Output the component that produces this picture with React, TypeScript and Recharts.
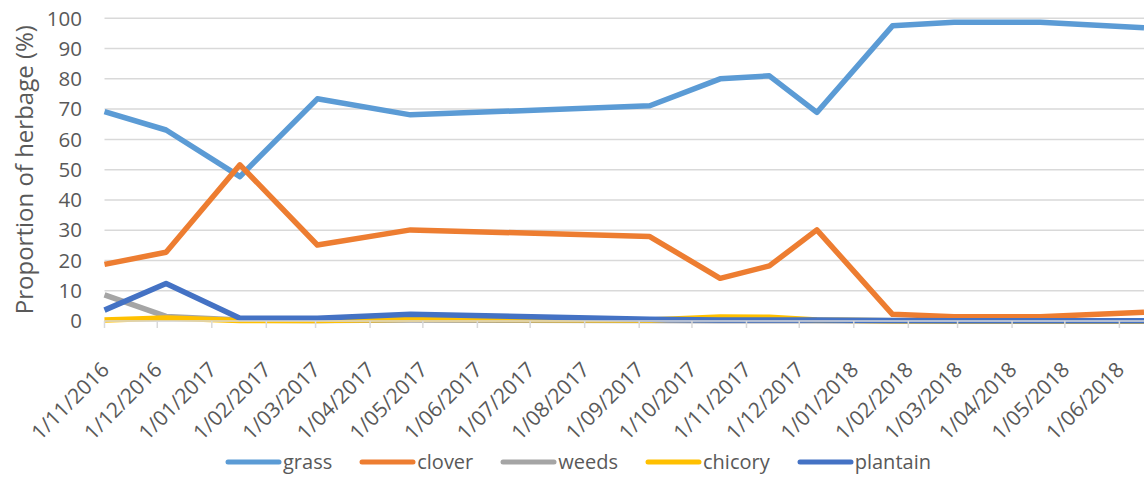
import React from 'react';
import { LineChart, Line, XAxis, YAxis, CartesianGrid, Legend, Label } from 'recharts';

// Sampling dates of the herbage survey
const sampleDates = [
  '2016-11-01', '2016-12-06', '2017-01-17', '2017-03-02', '2017-04-24', '2017-09-07', '2017-10-17',
  '2017-11-14', '2017-12-11', '2018-01-23', '2018-02-27', '2018-04-17', '2018-06-15',
];

// Botanical composition, % of herbage
const grass = [69.2, 63.1, 47.7, 73.4, 68.1, 71.1, 80.0, 81.0, 68.9, 97.5, 98.7, 98.7, 96.9];
const clover = [18.7, 22.7, 51.6, 25.1, 30.1, 27.9, 14.1, 18.2, 30.1, 2.2, 1.4, 1.4, 2.9];
const weeds = [8.6, 1.5, 0.3, 0.2, 0.3, 0.2, 0.1, 0.1, 0.1, 0.0, 0.0, 0.0, 0.0];
const chicory = [0.3, 1.0, 0.2, 0.2, 0.6, 0.3, 1.3, 1.2, 0.3, 0.1, 0.0, 0.0, 0.0];
const plantain = [3.6, 12.4, 0.9, 0.9, 2.2, 0.6, 0.3, 0.3, 0.3, 0.2, 0.1, 0.1, 0.1];

// Monthly axis ticks
const monthTicks = [
  '2016-11-01', '2016-12-01', '2017-01-01', '2017-02-01', '2017-03-01', '2017-04-01', '2017-05-01',
  '2017-06-01', '2017-07-01', '2017-08-01', '2017-09-01', '2017-10-01', '2017-11-01', '2017-12-01',
  '2018-01-01', '2018-02-01', '2018-03-01', '2018-04-01', '2018-05-01', '2018-06-01',
];
const axisStart = '2016-11-01';
const axisEnd = '2018-06-15';

const yTicks = [0, 10, 20, 30, 40, 50, 60, 70, 80, 90, 100];

const series = [
  { key: 'grass', name: 'grass', color: '#5B9BD5' },
  { key: 'clover', name: 'clover', color: '#ED7D31' },
  { key: 'weeds', name: 'weeds', color: '#A5A5A5' },
  { key: 'chicory', name: 'chicory', color: '#FFC000' },
  { key: 'plantain', name: 'plantain', color: '#4472C4' },
];

const toTime = (iso: string) => {
  const [y, m, d] = iso.split('-').map(Number);
  return Date.UTC(y, m - 1, d);
};

const formatDate = (t: number) => {
  const dt = new Date(t);
  const mm = String(dt.getUTCMonth() + 1).padStart(2, '0');
  return `${dt.getUTCDate()}/${mm}/${dt.getUTCFullYear()}`;
};

const data = sampleDates.map((d, i) => ({
  t: toTime(d),
  grass: grass[i],
  clover: clover[i],
  weeds: weeds[i],
  chicory: chicory[i],
  plantain: plantain[i],
}));

const FONT = '"Open Sans", sans-serif';
const TEXT = '#595959';
const GRID = '#D9D9D9';

const DateTick = (props: any) => {
  const { x, y, payload } = props;
  const ax = x + 6;
  const ay = y + 41;
  return (
    <text
      x={ax}
      y={ay}
      transform={`rotate(-45 ${ax} ${ay})`}
      textAnchor="end"
      fill={TEXT}
      fontSize={21}
      fontFamily={FONT}
    >
      {formatDate(payload.value)}
    </text>
  );
};

const AxisTitle = (props: any) => {
  const { viewBox } = props;
  const cx = viewBox.x + 24;
  const cy = viewBox.y + viewBox.height / 2;
  return (
    <text
      x={cx}
      y={cy}
      transform={`rotate(-90 ${cx} ${cy})`}
      textAnchor="middle"
      dominantBaseline="central"
      fill={TEXT}
      fontSize={24}
      fontFamily={FONT}
    >
      Proportion of herbage (%)
    </text>
  );
};

const LegendContent = () => (
  <div
    style={{
      display: 'flex',
      alignItems: 'center',
      paddingLeft: 225,
      gap: 27,
      fontFamily: FONT,
      fontSize: 20,
      color: TEXT,
      lineHeight: '26px',
    }}
  >
    {series.map((s) => (
      <div key={s.key} style={{ display: 'flex', alignItems: 'center' }}>
        <svg width={57} height={8} style={{ display: 'block' }}>
          <line x1={3} y1={4} x2={54} y2={4} stroke={s.color} strokeWidth={5} strokeLinecap="round" />
        </svg>
        <span style={{ marginLeft: 1 }}>{s.name}</span>
      </div>
    ))}
  </div>
);

export default function App() {
  return (
    <div style={{ position: 'absolute', left: 0, top: 0, width: 1144, height: 477, background: '#fff' }}>
      <LineChart
        width={1144}
        height={477}
        data={data}
        margin={{ top: 18.3, right: 0, bottom: 56, left: 0 }}
      >
        <CartesianGrid vertical={false} stroke={GRID} strokeWidth={1.5} />
        <XAxis
          dataKey="t"
          type="number"
          scale="linear"
          domain={[toTime(axisStart), toTime(axisEnd)]}
          ticks={monthTicks.map(toTime)}
          interval={0}
          height={100}
          axisLine={{ stroke: GRID, strokeWidth: 1.5 }}
          tickLine={{ stroke: GRID, strokeWidth: 1.5 }}
          tickSize={7}
          tick={<DateTick />}
        />
        <YAxis
          type="number"
          domain={[0, 100]}
          ticks={yTicks}
          interval={0}
          width={104.5}
          axisLine={false}
          tickLine={false}
          tickSize={0}
          tickMargin={22.5}
          tick={{ fill: TEXT, fontSize: 20.5, fontFamily: FONT }}
        >
          <Label content={<AxisTitle />} />
        </YAxis>
        {series.map((s) => (
          <Line
            key={s.key}
            type="linear"
            dataKey={s.key}
            name={s.name}
            stroke={s.color}
            strokeWidth={5.5}
            strokeLinejoin="round"
            strokeLinecap="butt"
            dot={false}
            activeDot={false}
            isAnimationActive={false}
          />
        ))}
        <Legend
          layout="vertical"
          verticalAlign="middle"
          align="center"
          content={<LegendContent />}
          wrapperStyle={{ position: 'absolute', left: 0, top: 449, width: 1144, height: 26 }}
        />
      </LineChart>
    </div>
  );
}
